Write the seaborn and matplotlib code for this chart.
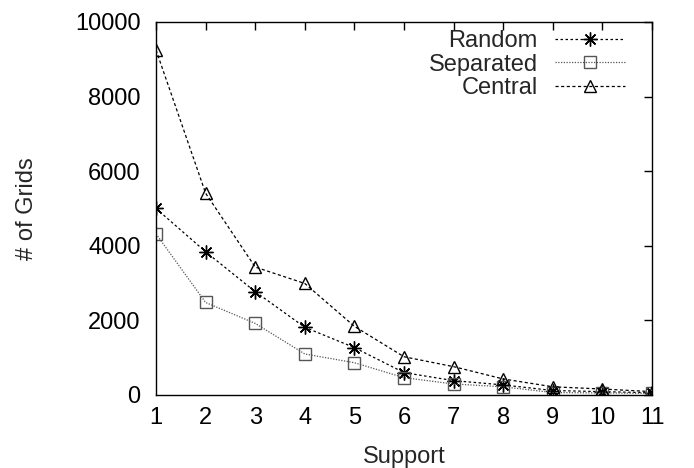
import matplotlib
matplotlib.use("Agg")
import matplotlib.pyplot as plt
import seaborn as sns
import pandas as pd

# Number of grids found per support threshold, for three placement strategies
support = [1, 2, 3, 4, 5, 6, 7, 8, 9, 10, 11]
random_grids = [5000, 3840, 2770, 1815, 1270, 600, 385, 270, 120, 90, 60]
separated_grids = [4320, 2480, 1920, 1100, 865, 465, 295, 220, 65, 55, 45]
central_grids = [9250, 5410, 3430, 2990, 1840, 1025, 760, 430, 220, 160, 90]

series_names = ["Random", "Separated", "Central"]
x_ticks = [1, 2, 3, 4, 5, 6, 7, 8, 9, 10, 11]
y_ticks = [0, 2000, 4000, 6000, 8000, 10000]

df = pd.concat([
    pd.DataFrame({"Support": support, "Grids": random_grids, "Series": "Random"}),
    pd.DataFrame({"Support": support, "Grids": separated_grids, "Series": "Separated"}),
    pd.DataFrame({"Support": support, "Grids": central_grids, "Series": "Central"}),
])

sns.set_theme(style="white")
plt.rcParams["font.family"] = ["Liberation Sans", "DejaVu Sans"]
FS = 17
W, H = 694, 468

fig = plt.figure(figsize=(W / 100, H / 100), dpi=100)
ax = fig.add_axes([0.2248, 0.156, 0.9395 - 0.2248, 0.953 - 0.156])

styles = {
    "Random": dict(marker=(8, 2, 0), color="black", ls=(0, (2.0, 2.0)), ms=10),
    "Separated": dict(marker="s", color="#555555", ls=(0, (1.0, 1.2)), ms=9),
    "Central": dict(marker="^", color="black", ls=(0, (2.5, 2.0)), ms=9),
}

for name in series_names:
    st = styles[name]
    sub = df[df["Series"] == name]
    sns.lineplot(
        data=sub, x="Support", y="Grids", ax=ax, label=name,
        color=st["color"], marker=st["marker"], markersize=st["ms"],
        markerfacecolor="none", markeredgecolor=st["color"],
        markeredgewidth=1.0, linewidth=0.9, linestyle=st["ls"],
    )

ax.set_xlim(1, 11)
ax.set_ylim(0, 10000)
ax.set_xticks(x_ticks)
ax.set_yticks(y_ticks)
ax.set_xlabel("Support", fontsize=FS, labelpad=12)
ax.set_ylabel("# of Grids", fontsize=FS, labelpad=27)

for side in ["top", "right", "bottom", "left"]:
    ax.spines[side].set_visible(True)
    ax.spines[side].set_color("black")
    ax.spines[side].set_linewidth(1.0)

ax.tick_params(axis="x", which="major", direction="in", length=6, width=1,
               top=True, labelsize=FS, colors="black", pad=9)
ax.tick_params(axis="y", which="major", direction="in", length=6, width=1,
               right=True, labelsize=FS, colors="black", pad=11)

leg = ax.legend(loc="upper right", bbox_to_anchor=(625 / W, 1 - 30 / H),
                bbox_transform=fig.transFigure, frameon=False, markerfirst=False,
                handlelength=2.97, handletextpad=0.72, labelspacing=0.07,
                fontsize=FS, borderaxespad=0.0, borderpad=0.0)
leg._legend_box.align = "right"
for packer in leg._legend_handle_box.get_children():
    packer.align = "right"
for t in leg.get_texts():
    t.set_ha("right")

fig.savefig("out.png", dpi=100, facecolor="white")
